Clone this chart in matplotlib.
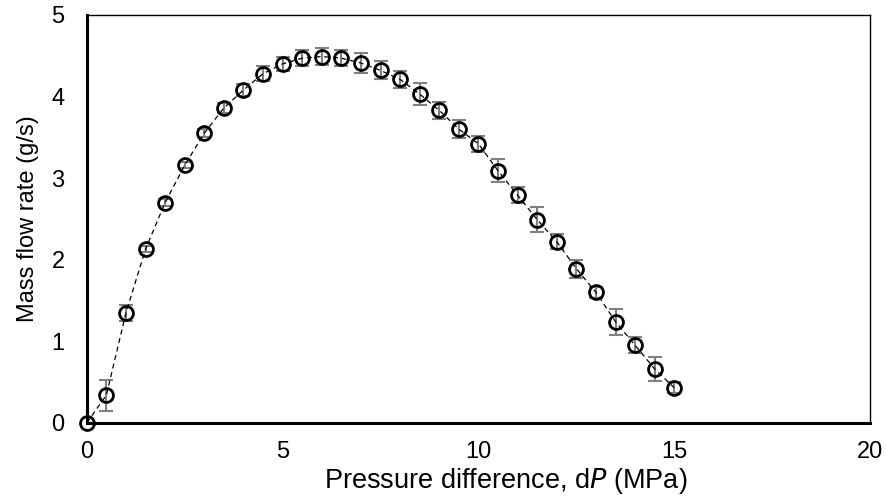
import numpy as np
import matplotlib.pyplot as plt

plt.rcParams['font.family'] = ['Liberation Sans', 'DejaVu Sans']

# pressure difference (MPa)
dp = [0, 0.5, 1, 1.5, 2, 2.5, 3, 3.5, 4, 4.5, 5, 5.5, 6, 6.5, 7, 7.5,
      8, 8.5, 9, 9.5, 10, 10.5, 11, 11.5, 12, 12.5, 13, 13.5, 14, 14.5, 15]
# mass flow rate (g/s)
flow = [0, 0.34, 1.35, 2.13, 2.70, 3.16, 3.55, 3.86, 4.08, 4.28, 4.40,
        4.47, 4.49, 4.47, 4.41, 4.32, 4.21, 4.03, 3.83, 3.60, 3.42, 3.09,
        2.79, 2.49, 2.22, 1.89, 1.60, 1.24, 0.95, 0.66, 0.43]
flow_err = [0, 0.19, 0.10, 0.04, 0.04, 0.04, 0.05, 0.06, 0.07, 0.09, 0.09,
            0.10, 0.10, 0.10, 0.12, 0.11, 0.10, 0.14, 0.10, 0.11, 0.10, 0.14,
            0.10, 0.15, 0.09, 0.11, 0.07, 0.16, 0.10, 0.15, 0.07]

fig = plt.figure(figsize=(8.86, 4.98), dpi=100)
ax = fig.add_axes([0.098, 0.151, 0.884, 0.819])

ax.errorbar(dp, flow, yerr=flow_err, fmt='none', ecolor='#7f7f7f',
            elinewidth=1.5, capsize=5, capthick=1.5, zorder=2)
ax.plot(dp, flow, 'k--', lw=0.9, dashes=(4, 3), zorder=3)
ax.plot(dp, flow, 'o', mfc='none', mec='black', mew=2, ms=10, zorder=4,
        clip_on=False)

ax.set_xlim(0, 20)
ax.set_ylim(0, 5)
ax.set_xticks([0, 5, 10, 15, 20])
ax.set_yticks([0, 1, 2, 3, 4, 5])
ax.tick_params(length=0, labelsize=17)
ax.tick_params(axis='x', pad=13)
ax.tick_params(axis='y', pad=16)

for s in ['left', 'bottom']:
    ax.spines[s].set_linewidth(2.2)
for s in ['top', 'right']:
    ax.spines[s].set_linewidth(1)

ax.set_xlabel('Pressure difference, d$\\it{P}$ (MPa)', fontsize=19.5)
ax.xaxis.set_label_coords(0.535, -0.105, transform=ax.transAxes)
ax.set_ylabel('Mass flow rate (g/s)', fontsize=17, labelpad=9)

fig.savefig('out.png', dpi=100)
